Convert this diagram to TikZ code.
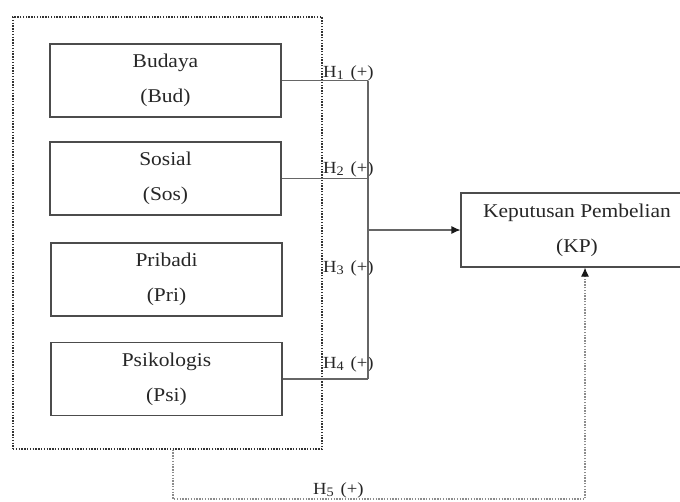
\documentclass[tikz,border=0pt]{standalone}
\usepackage{fontspec}
\setmainfont{Liberation Serif}[FakeStretch=1.1]
\usetikzlibrary{arrows.meta}
\newcommand\hsub[1]{\raisebox{-2.5pt}{\fontsize{13}{13}\selectfont#1}}

\begin{document}
\begin{tikzpicture}[x=1pt,y=-1pt,
		var/.style={draw=black!70, line width=1.1pt, text=black!85, align=center,
			minimum width=231pt, minimum height=73pt, inner sep=0pt,
			font=\fontsize{19.5}{35}\selectfont},
		hyp/.style={anchor=base west, inner sep=0pt, text=black!85, font=\fontsize{17}{20}\selectfont},
		link/.style={draw=black!60, line width=1.1pt},
		grpline/.style={draw=black!80, line width=1.1pt, dash pattern=on 1.4pt off 1.4pt},
		fbline/.style={draw=black!45, line width=1.1pt, dash pattern=on 1.4pt off 1.4pt},
		tip/.style={-{Latex[length=9pt,width=8pt,color=black!90]}}]
	\useasboundingbox (0,0) rectangle (680,501);
	\node [grpline, minimum width=309pt, minimum height=432pt] at (167.5,233) (grp) {};
	\node [var] at (165.5,80.5) (bud) {Budaya\\(Bud)};
	\node [var] at (165.5,178.5) (sos) {Sosial\\(Sos)};
	\node [var] at (166.5,279.5) (pri) {Pribadi\\(Pri)};
	\node [var] at (166.5,379) (psi) {Psikologis\\(Psi)};
	\node [var, minimum width=232pt, minimum height=74pt] at (577,230) (kp) {Keputusan Pembelian\\(KP)};
	\coordinate (jn) at (368,230);
	\coordinate (h5l) at (173,499);
	\coordinate (h5r) at (585,499);
	\node [hyp] at (323,77) (h1) {H\hsub{1}\hspace{2pt} (+)};
	\node [hyp] at (323,173) (h2) {H\hsub{2}\hspace{2pt} (+)};
	\node [hyp] at (323,272) (h3) {H\hsub{3}\hspace{2pt} (+)};
	\node [hyp] at (323,368) (h4) {H\hsub{4}\hspace{2pt} (+)};
	\node [hyp] at (313,494) (h5) {H\hsub{5}\hspace{2pt} (+)};
	\draw [link] (bud.east) -- (bud.east -| jn);
	\draw [link] (sos.east) -- (sos.east -| jn);
	\draw [link] (psi.east) -- (psi.east -| jn);
	\draw [link] (bud.east -| jn) -- (psi.east -| jn);
	\draw [link, tip] (jn) -- (kp.west);
	\draw [fbline, tip] (grp.south -| h5l) -- (h5l) -- (h5r) -- (h5r |- kp.south);
\end{tikzpicture}
\end{document}
